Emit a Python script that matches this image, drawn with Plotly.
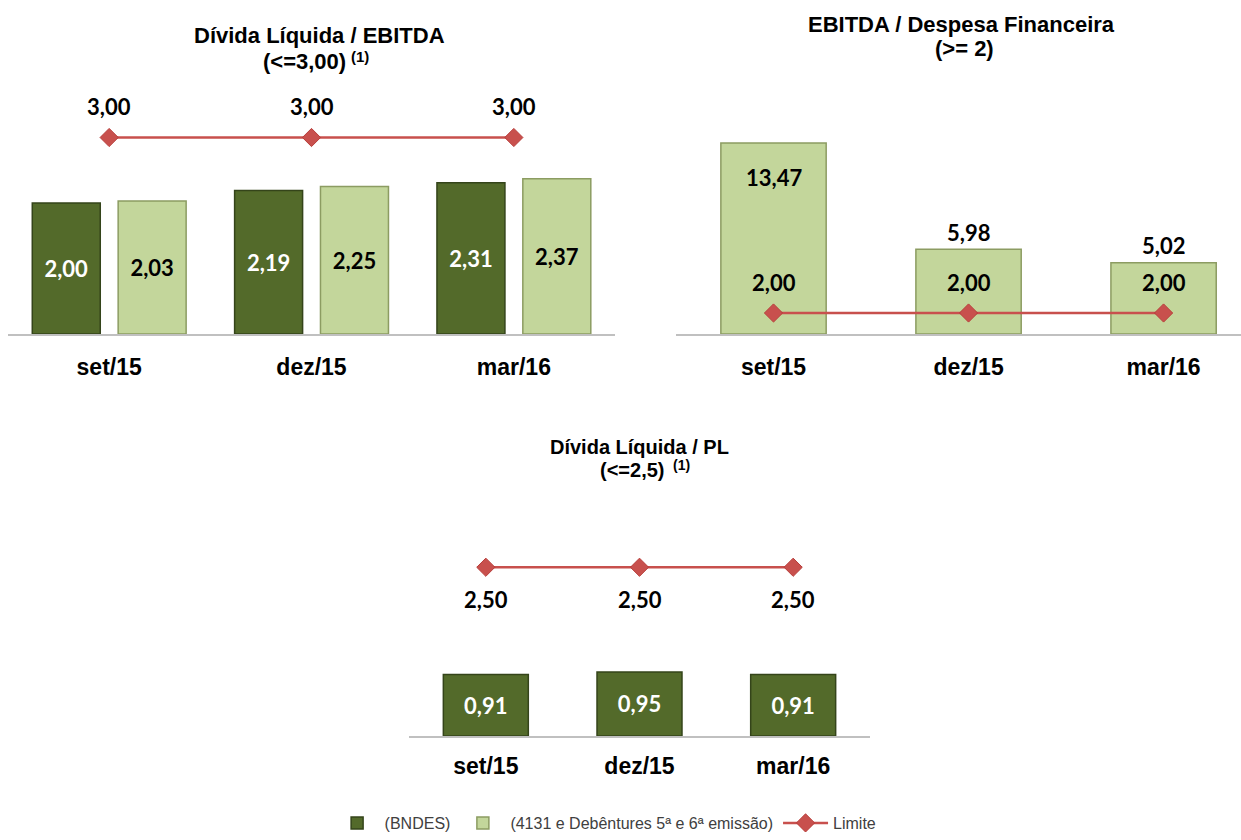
import plotly.graph_objects as go

# ---------------- data ----------------
periods = ["set/15", "dez/15", "mar/16"]

div_ebitda_bndes = [2.00, 2.19, 2.31]
div_ebitda_4131 = [2.03, 2.25, 2.37]
div_ebitda_limite = [3.00, 3.00, 3.00]

ebitda_desp = [13.47, 5.98, 5.02]
ebitda_desp_limite = [2.00, 2.00, 2.00]

div_pl = [0.91, 0.95, 0.91]
div_pl_limite = [2.50, 2.50, 2.50]

name_bndes = "(BNDES)"
name_4131 = "(4131 e Debêntures 5ª e 6ª emissão)"
name_limite = "Limite"

# ---------------- styles ----------------
W, H = 1241, 840
DARK = "#536a2a"
DARK_EDGE = "#34441a"
LIGHT = "#c3d69b"
LIGHT_EDGE = "#8c9c62"
RED = "#c8504d"
AXIS = "#c0c0c0"
LABEL_FONT = "Lato, Open Sans, sans-serif"
ARIAL = "Arial, Liberation Sans, sans-serif"


def fmt(v):
    return f"{v:.2f}".replace(".", ",")


def px_x(p):
    return p / W


def px_y(p):
    return 1 - p / H


fig = go.Figure()

# ---- chart 1: Dívida Líquida / EBITDA ----
fig.add_trace(go.Bar(
    x=periods, y=div_ebitda_bndes, name=name_bndes, xaxis="x", yaxis="y",
    width=0.336, offset=-0.380,
    marker=dict(color=DARK, line=dict(color=DARK_EDGE, width=1.5)),
    text=[fmt(v) for v in div_ebitda_bndes], textposition="inside",
    insidetextanchor="middle", textangle=0,
    textfont=dict(family=LABEL_FONT, size=22, color="white", weight="bold"),
    legendrank=1,
))
fig.add_trace(go.Bar(
    x=periods, y=div_ebitda_4131, name=name_4131, xaxis="x", yaxis="y",
    width=0.336, offset=0.0444,
    marker=dict(color=LIGHT, line=dict(color=LIGHT_EDGE, width=1.5)),
    text=[fmt(v) for v in div_ebitda_4131], textposition="inside",
    insidetextanchor="middle", textangle=0,
    textfont=dict(family=LABEL_FONT, size=22, color="black", weight="bold"),
    legendrank=2,
))
fig.add_trace(go.Scatter(
    x=periods, y=div_ebitda_limite, name=name_limite, xaxis="x", yaxis="y",
    mode="lines+markers",
    line=dict(color=RED, width=2.5),
    marker=dict(symbol="diamond", size=14, color=RED, line=dict(color="#b83c39", width=1)),
    legendrank=3,
))

# ---- chart 2: EBITDA / Despesa Financeira ----
fig.add_trace(go.Bar(
    x=periods, y=ebitda_desp, name=name_4131, xaxis="x2", yaxis="y2",
    width=0.54, offset=-0.27, showlegend=False,
    marker=dict(color=LIGHT, line=dict(color=LIGHT_EDGE, width=1.5)),
))
fig.add_trace(go.Scatter(
    x=periods, y=ebitda_desp_limite, name=name_limite, xaxis="x2", yaxis="y4",
    mode="lines+markers", showlegend=False,
    line=dict(color=RED, width=2.5),
    marker=dict(symbol="diamond", size=14, color=RED, line=dict(color="#b83c39", width=1)),
))

# ---- chart 3: Dívida Líquida / PL ----
fig.add_trace(go.Bar(
    x=periods, y=div_pl, name=name_bndes, xaxis="x3", yaxis="y3",
    width=0.553, offset=-0.2765, showlegend=False,
    marker=dict(color=DARK, line=dict(color=DARK_EDGE, width=1.5)),
    text=[fmt(v) for v in div_pl], textposition="inside",
    insidetextanchor="middle", textangle=0,
    textfont=dict(family=LABEL_FONT, size=22, color="white", weight="bold"),
))
fig.add_trace(go.Scatter(
    x=periods, y=div_pl_limite, name=name_limite, xaxis="x3", yaxis="y3",
    mode="lines+markers", showlegend=False,
    line=dict(color=RED, width=2.5),
    marker=dict(symbol="diamond", size=14, color=RED, line=dict(color="#b83c39", width=1)),
))

# ---------------- annotations ----------------
ann = []
lab_font = dict(family=LABEL_FONT, size=22, color="black", weight="bold")
for p, v in zip(periods, div_ebitda_limite):
    ann.append(dict(x=p, y=v, xref="x", yref="y", text=fmt(v), showarrow=False,
                    yshift=31, font=lab_font))
for p, v in zip(periods, ebitda_desp_limite):
    ann.append(dict(x=p, y=v, xref="x2", yref="y4", text=fmt(v), showarrow=False,
                    yshift=30, font=lab_font))
bar2_shift = [-35, 17, 17]
for p, v, s in zip(periods, ebitda_desp, bar2_shift):
    ann.append(dict(x=p, y=v, xref="x2", yref="y2", text=fmt(v), showarrow=False,
                    yshift=s, font=lab_font))
for p, v in zip(periods, div_pl_limite):
    ann.append(dict(x=p, y=v, xref="x3", yref="y3", text=fmt(v), showarrow=False,
                    yshift=-32, font=lab_font))

# titles: (text, x px, y px, size, xanchor)
titles = [
    ("Dívida Líquida / EBITDA", 320, 36, 22, "center"),
    ("(&lt;=3,00)", 304, 62, 22, "center"),
    ("(1)", 349, 57, 15, "left"),
    ("EBITDA / Despesa Financeira", 961, 24, 22, "center"),
    ("(&gt;= 2)", 964, 48, 22, "center"),
    ("Dívida Líquida / PL", 640, 447, 20, "center"),
    ("(&lt;=2,5)", 632, 470, 20, "center"),
    ("(1)", 671, 465, 14, "left"),
]
for t, x, y, s, xa in titles:
    ann.append(dict(x=px_x(x), y=px_y(y), xref="paper", yref="paper", text=t,
                    showarrow=False, xanchor=xa, yanchor="middle",
                    font=dict(family=ARIAL, size=s, color="black", weight="bold")))

# ---------------- axes ----------------
tickfont = dict(family=ARIAL, size=23, color="black", weight="bold")


def xax(domain, rng, anchor, standoff):
    return dict(domain=domain, range=rng, type="category", anchor=anchor,
                showline=True, linecolor=AXIS, linewidth=2, showgrid=False,
                zeroline=False, ticks="", tickfont=tickfont, ticklabelstandoff=standoff,
                fixedrange=True)


def yax(domain, rng, anchor):
    return dict(domain=domain, range=rng, anchor=anchor, visible=False,
                showgrid=False, zeroline=False, fixedrange=True)


fig.update_layout(
    width=W, height=H,
    margin=dict(l=0, r=0, t=0, b=0, autoexpand=False),
    paper_bgcolor="white", plot_bgcolor="white",
    separators=",.",
    barmode="overlay",
    showlegend=True,
    xaxis=xax([px_x(8), px_x(615)], [-0.5, 2.5], "y", 11),
    yaxis=yax([px_y(334), px_y(90)], [0, 244 / 65.5], "x"),
    xaxis2=xax([px_x(676), 1.0], [-0.5, 2.397], "y2", 11),
    yaxis2=yax([px_y(334), px_y(90)], [0, 244 / 14.18], "x2"),
    yaxis4=dict(overlaying="y2", range=[0, 244 / 10.5], visible=False,
                showgrid=False, zeroline=False, anchor="x2"),
    xaxis3=xax([px_x(409), px_x(870)], [-0.5, 2.5], "y3", 8),
    yaxis3=yax([px_y(736), px_y(520)], [0, 216 / 67.5], "x3"),
    legend=dict(orientation="h", x=0.488, xanchor="center", y=0, yanchor="bottom",
                font=dict(family=ARIAL, size=16, color="#404040"),
                itemwidth=45, traceorder="normal", bgcolor="rgba(0,0,0,0)"),
    annotations=ann,
)

fig.write_html("out.html")
